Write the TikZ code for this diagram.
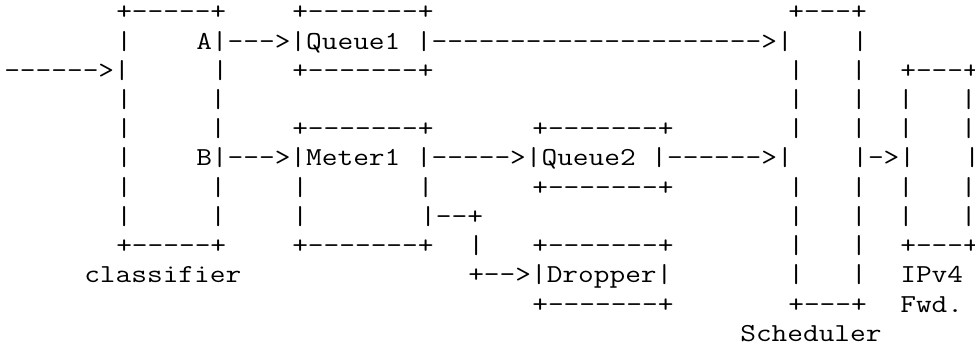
\documentclass[tikz,border=0pt]{standalone}
\usepackage{graphicx}
\tikzset{
  asc/.style={anchor=base west, inner sep=0pt, outer sep=0pt,
    font=\ttfamily\fontsize{30.476pt}{30pt}\selectfont}
}
% #1 name, #2 column, #3 row, #4 text
\newcommand{\ascseg}[4]{\node[asc] (#1) at ({4.3+16*#2},{20+29.2*#3}) {\scalebox{1}[0.85]{#4}};}
\newcommand{\wbox}{+-----{}--+}% 7 dashes
\newcommand{\cbox}{+-----{}+}% 5 dashes
\newcommand{\nbox}{+---+}% 3 dashes
\begin{document}
\begin{tikzpicture}[x=1pt,y=-1pt]
\useasboundingbox (0,0) rectangle (975,350);
% row 0
\ascseg{clsTop}{7}{0}{\cbox}
\ascseg{q1Top}{18}{0}{\wbox}
\ascseg{schTop}{49}{0}{\nbox}
% row 1
\ascseg{clsL1}{7}{1}{|}
\ascseg{pathA}{12}{1}{A|--->|Queue1 |-----{}-----{}-----{}-----{}->|}
\ascseg{schR1}{53}{1}{|}
% row 2
\ascseg{input}{0}{2}{-----{}->|}
\ascseg{clsR2}{13}{2}{|}
\ascseg{q1Bot}{18}{2}{\wbox}
\ascseg{sch2}{49}{2}{|\ \ \ |}
\ascseg{fwdTop}{56}{2}{\nbox}
% row 3
\ascseg{cls3}{7}{3}{|\ \ \ \ \ |}
\ascseg{sch3}{49}{3}{|\ \ \ |\ \ |\ \ \ |}
% row 4
\ascseg{cls4}{7}{4}{|\ \ \ \ \ |}
\ascseg{m1Top}{18}{4}{\wbox}
\ascseg{q2Top}{33}{4}{\wbox}
\ascseg{sch4}{49}{4}{|\ \ \ |\ \ |\ \ \ |}
% row 5
\ascseg{clsL5}{7}{5}{|}
\ascseg{pathB}{12}{5}{B|--->|Meter1 |-----{}>|Queue2 |-----{}->|}
\ascseg{toFwd}{53}{5}{|->|}
\ascseg{fwdR5}{60}{5}{|}
% row 6
\ascseg{cls6}{7}{6}{|\ \ \ \ \ |}
\ascseg{m1Side6}{18}{6}{|\ \ \ \ \ \ \ |}
\ascseg{q2Bot}{33}{6}{\wbox}
\ascseg{sch6}{49}{6}{|\ \ \ |\ \ |\ \ \ |}
% row 7
\ascseg{cls7}{7}{7}{|\ \ \ \ \ |}
\ascseg{m1L7}{18}{7}{|}
\ascseg{drop1}{26}{7}{|--+}
\ascseg{sch7}{49}{7}{|\ \ \ |\ \ |\ \ \ |}
% row 8
\ascseg{clsBot}{7}{8}{\cbox}
\ascseg{m1Bot}{18}{8}{\wbox}
\ascseg{drop2}{29}{8}{|}
\ascseg{drTop}{33}{8}{\wbox}
\ascseg{sch8}{49}{8}{|\ \ \ |}
\ascseg{fwdBot}{56}{8}{\nbox}
% row 9
\ascseg{clsLabel}{5}{9}{classifier}
\ascseg{dropper}{29}{9}{+-->|Dropper|}
\ascseg{sch9}{49}{9}{|\ \ \ |}
\ascseg{fwdLabel1}{56}{9}{IPv4}
% row 10
\ascseg{drBot}{33}{10}{\wbox}
\ascseg{schBot}{49}{10}{\nbox}
\ascseg{fwdLabel2}{56}{10}{Fwd.}
% row 11
\ascseg{schLabel}{46}{11}{Scheduler}
\end{tikzpicture}
\end{document}
